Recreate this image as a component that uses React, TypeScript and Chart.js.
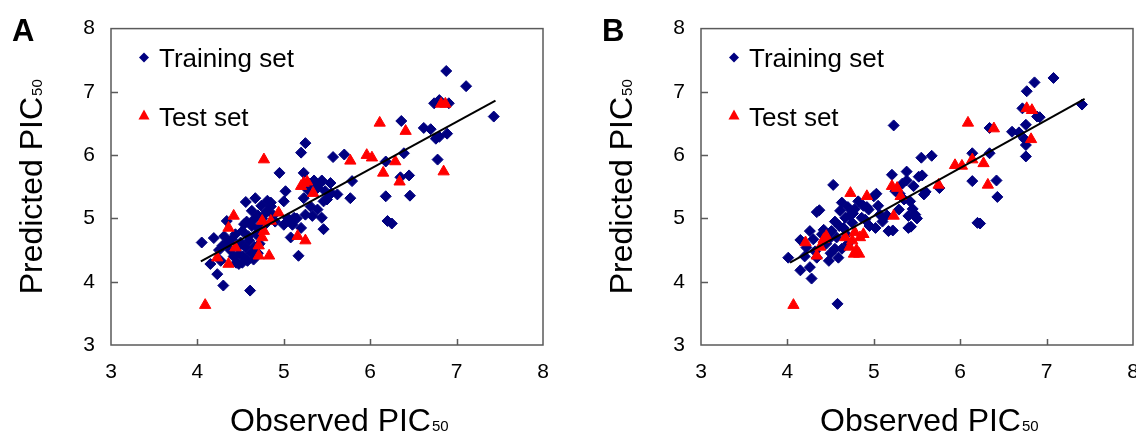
import { useEffect, useRef } from 'react';
import { Chart, registerables } from 'chart.js';

Chart.register(...registerables);

const xTicks = [3, 4, 5, 6, 7, 8];
const yTicks = [3, 4, 5, 6, 7, 8];
const seriesNames = ['Training set', 'Test set'];
const xTitle = ['Observed PIC', '50'];
const yTitle = ['Predicted PIC', '50'];

const trainingA: [number, number][] = [
  [4.05, 4.62], [4.15, 4.28], [4.19, 4.69], [4.23, 4.12], [4.27, 4.33], [4.29, 4.57], [4.30, 3.94],
  [4.31, 4.72], [4.34, 4.96], [4.38, 4.50], [4.40, 4.67], [4.42, 4.40], [4.45, 4.30], [4.48, 4.44],
  [4.48, 4.28], [4.50, 4.62], [4.52, 4.80], [4.54, 4.91], [4.56, 4.54], [4.56, 5.26], [4.58, 4.33],
  [4.59, 4.72], [4.61, 3.86], [4.62, 4.45], [4.63, 4.88], [4.63, 5.12], [4.65, 4.98], [4.67, 5.32],
  [4.68, 4.75], [4.70, 5.05], [4.72, 4.60], [4.74, 5.20], [4.78, 4.90], [4.81, 5.28], [4.85, 5.19],
  [4.88, 5.05], [4.90, 4.95], [4.95, 5.72], [5.00, 5.27], [5.02, 5.43], [5.00, 4.90], [5.05, 5.00],
  [5.08, 4.96], [5.08, 4.70], [5.12, 5.01], [5.15, 5.00], [5.17, 4.41], [5.20, 6.04], [5.25, 6.19],
  [5.23, 5.72], [5.20, 4.85], [5.23, 5.32], [5.25, 5.06], [5.31, 5.19], [5.33, 5.04], [5.39, 5.48],
  [5.39, 5.14], [5.44, 5.60], [5.44, 5.01], [5.46, 5.27], [5.46, 4.83], [5.48, 5.43], [5.54, 5.56],
  [5.57, 5.97], [5.62, 5.38], [5.70, 6.01], [5.77, 5.32], [5.79, 5.59], [5.30, 5.55], [5.35, 5.60],
  [4.25, 4.50], [4.35, 4.62], [4.44, 4.75], [4.47, 4.55], [4.53, 4.40], [4.60, 4.65], [4.66, 4.55],
  [4.70, 4.85], [4.75, 5.00], [4.80, 5.10], [4.57, 4.95], [4.65, 4.35], [4.52, 4.30], [4.85, 5.25],
  [5.10, 4.90], [5.28, 5.45], [5.42, 5.55], [5.50, 5.30], [5.55, 5.40], [4.70, 4.45],
  [6.18, 5.90], [6.18, 5.35], [6.20, 4.96], [6.25, 4.92], [6.36, 6.54], [6.39, 6.03], [6.35, 5.65],
  [6.45, 5.68], [6.46, 5.36], [6.62, 6.43], [6.70, 6.41], [6.76, 6.26], [6.80, 6.29], [6.89, 6.34],
  [6.78, 5.93], [6.74, 6.82], [6.80, 6.87], [6.91, 6.82], [6.88, 7.33], [7.11, 7.09], [7.43, 6.61],
];

const testA: [number, number][] = [
  [4.09, 3.63], [4.23, 4.38], [4.36, 4.28], [4.36, 4.85], [4.42, 5.04], [4.44, 4.54], [4.71, 4.41],
  [4.71, 4.57], [4.75, 4.96], [4.77, 4.80], [4.77, 5.93], [4.83, 4.41], [4.85, 4.96], [4.94, 5.09],
  [4.75, 4.70], [5.16, 4.72], [5.25, 4.65], [5.20, 5.51], [5.23, 5.56], [5.27, 5.58], [5.34, 5.40],
  [5.77, 5.91], [5.96, 6.00], [6.02, 5.96], [6.11, 6.51], [6.15, 5.72], [6.29, 5.90], [6.34, 5.58],
  [6.41, 6.38], [6.82, 6.81], [6.87, 6.81], [6.85, 5.74],
];

const fitA: [number, number][] = [[4.04, 4.32], [7.45, 6.86]];

const trainingB: [number, number][] = [
  [4.01, 4.38], [4.15, 4.66], [4.15, 4.18], [4.22, 4.54], [4.26, 4.80], [4.26, 4.23], [4.28, 4.05],
  [4.30, 4.67], [4.34, 5.10], [4.34, 4.38], [4.37, 5.13], [4.40, 4.75], [4.45, 4.60], [4.48, 4.67],
  [4.48, 4.33], [4.51, 4.80], [4.53, 5.53], [4.55, 4.52], [4.57, 4.70], [4.58, 3.65], [4.59, 4.38],
  [4.61, 5.12], [4.63, 5.25], [4.63, 4.52], [4.65, 4.85], [4.67, 5.01], [4.70, 4.60], [4.72, 5.05],
  [4.75, 4.93], [4.78, 5.15], [4.82, 5.27], [4.86, 5.01], [4.88, 5.20], [4.94, 5.14], [4.92, 5.18],
  [5.00, 5.35], [5.02, 4.85], [5.03, 5.39], [5.07, 5.06], [5.10, 4.95], [5.17, 4.80], [5.22, 4.81],
  [5.21, 5.69], [5.23, 6.47], [5.25, 5.43], [5.29, 5.14], [5.30, 5.39], [5.35, 5.30], [5.38, 5.74],
  [5.40, 5.04], [5.40, 4.85], [5.42, 5.27], [5.43, 4.87], [5.46, 5.51], [5.48, 5.06], [5.50, 5.00],
  [5.52, 5.66], [5.55, 5.96], [5.56, 5.68], [5.58, 5.38], [5.60, 5.42], [5.67, 5.99], [5.76, 5.48],
  [4.20, 4.40], [4.32, 4.48], [4.42, 4.82], [4.50, 4.45], [4.55, 4.95], [4.60, 4.88], [4.68, 4.75],
  [4.70, 5.18], [4.76, 5.08], [4.90, 4.98], [4.95, 4.88], [5.05, 5.20], [5.15, 5.05], [5.33, 5.55],
  [5.45, 5.15], [5.38, 5.60],
  [6.14, 6.03], [6.14, 5.59], [6.20, 4.93], [6.23, 4.92], [6.34, 6.43], [6.34, 6.03], [6.42, 5.60],
  [6.43, 5.34], [6.60, 6.37], [6.68, 6.36], [6.72, 6.74], [6.74, 6.26], [6.76, 6.48], [6.76, 6.16],
  [6.76, 5.98], [6.77, 7.01], [6.86, 7.15], [6.89, 6.61], [6.92, 6.60], [7.08, 7.22], [7.41, 6.80],
];

const testB: [number, number][] = [
  [4.07, 3.63], [4.21, 4.62], [4.34, 4.41], [4.38, 4.55], [4.42, 4.67], [4.45, 4.72], [4.67, 4.70],
  [4.72, 4.55], [4.73, 5.40], [4.75, 4.65], [4.77, 4.44], [4.80, 4.50], [4.83, 4.44], [4.84, 4.70],
  [4.78, 4.78], [4.88, 4.75], [4.92, 5.35], [5.21, 5.51], [5.23, 5.04], [5.27, 5.48], [5.31, 5.35],
  [5.75, 5.53], [5.94, 5.84], [6.02, 5.83], [6.09, 6.51], [6.14, 5.93], [6.27, 5.87], [6.32, 5.53],
  [6.39, 6.42], [6.77, 6.74], [6.83, 6.71], [6.82, 6.25],
];

const fitB: [number, number][] = [[4.03, 4.30], [7.44, 6.89]];

const FONT = '"Liberation Sans", Arial, Helvetica, sans-serif';
const NAVY = '#000080';
const RED = '#ff0000';
const BOX = '#5a5a5a';

type PanelProps = {
  label: string;
  training: [number, number][];
  test: [number, number][];
  fit: [number, number][];
  left: number;
};

function Panel({ label, training, test, fit, left }: PanelProps) {
  const ref = useRef<HTMLCanvasElement>(null);
  useEffect(() => {
    if (!ref.current) return;
    const decor = {
      id: 'decor',
      afterDraw(chart: any) {
        const { ctx, chartArea: a, scales } = chart;
        ctx.save();
        ctx.strokeStyle = BOX;
        ctx.lineWidth = 1.5;
        ctx.strokeRect(a.left, a.top, a.right - a.left, a.bottom - a.top);
        ctx.beginPath();
        for (const v of xTicks.slice(1, -1)) {
          const px = Math.round(scales.x.getPixelForValue(v)) + 0.5;
          ctx.moveTo(px, a.bottom);
          ctx.lineTo(px, a.bottom - 6);
        }
        for (const v of yTicks.slice(1, -1)) {
          const py = Math.round(scales.y.getPixelForValue(v)) + 0.5;
          ctx.moveTo(a.left, py);
          ctx.lineTo(a.left + 7, py);
        }
        ctx.stroke();

        ctx.fillStyle = '#000';
        ctx.textBaseline = 'alphabetic';
        ctx.textAlign = 'left';
        ctx.font = `bold 31px ${FONT}`;
        ctx.fillText(label, a.left - 99, 41);

        ctx.font = `32px ${FONT}`;
        const xm = ctx.measureText(xTitle[0]).width;
        const xs = a.left + 119;
        ctx.fillText(xTitle[0], xs, 431);
        ctx.font = `15px ${FONT}`;
        ctx.fillText(xTitle[1], xs + xm + 1, 431);

        ctx.font = `32px ${FONT}`;
        const ym = ctx.measureText(yTitle[0]).width;
        ctx.font = `15px ${FONT}`;
        const ysw = ctx.measureText(yTitle[1]).width;
        const tot = ym + 1 + ysw;
        ctx.save();
        ctx.translate(42, (a.top + a.bottom) / 2);
        ctx.rotate(-Math.PI / 2);
        ctx.font = `32px ${FONT}`;
        ctx.fillText(yTitle[0], -tot / 2, 0);
        ctx.font = `15px ${FONT}`;
        ctx.fillText(yTitle[1], -tot / 2 + ym + 1, 0);
        ctx.restore();

        const mx = a.left + 33;
        ctx.fillStyle = NAVY;
        ctx.beginPath();
        ctx.moveTo(mx - 5, 57.5);
        ctx.lineTo(mx, 52.5);
        ctx.lineTo(mx + 5, 57.5);
        ctx.lineTo(mx, 62.5);
        ctx.closePath();
        ctx.fill();
        ctx.fillStyle = RED;
        ctx.beginPath();
        ctx.moveTo(mx, 109.5);
        ctx.lineTo(mx + 5.5, 119.5);
        ctx.lineTo(mx - 5.5, 119.5);
        ctx.closePath();
        ctx.fill();
        ctx.fillStyle = '#000';
        ctx.font = `26px ${FONT}`;
        ctx.fillText(seriesNames[0], a.left + 48, 67);
        ctx.fillText(seriesNames[1], a.left + 48, 126);
        ctx.restore();
      },
    };

    const tickFont = { family: FONT, size: 21 };
    const chart = new Chart(ref.current, {
      type: 'scatter',
      data: {
        datasets: [
          {
            label: 'fit',
            data: fit.map(([x, y]) => ({ x, y })),
            showLine: true,
            borderColor: '#000',
            borderWidth: 2,
            pointRadius: 0,
            order: 0,
          } as any,
          {
            label: seriesNames[1],
            data: test.map(([x, y]) => ({ x, y })),
            pointStyle: 'triangle',
            pointRadius: 6.5,
            backgroundColor: RED,
            borderColor: RED,
            borderWidth: 1,
            order: 1,
          },
          {
            label: seriesNames[0],
            data: training.map(([x, y]) => ({ x, y })),
            pointStyle: 'rectRot',
            pointRadius: 5.5,
            backgroundColor: NAVY,
            borderColor: NAVY,
            borderWidth: 1,
            order: 2,
          },
        ],
      },
      options: {
        responsive: false,
        animation: false,
        layout: { padding: { left: 0, top: 26, right: 47, bottom: 0 }, autoPadding: false },
        plugins: { legend: { display: false }, tooltip: { enabled: false } },
        scales: {
          x: {
            type: 'linear',
            min: 3,
            max: 8,
            ticks: { stepSize: 1, font: tickFont, color: '#000', padding: 15, maxRotation: 0 },
            grid: { display: false, drawTicks: false },
            border: { display: false },
            afterFit: (s: any) => { s.height = 90; },
          },
          y: {
            type: 'linear',
            min: 3,
            max: 8,
            ticks: { stepSize: 1, font: tickFont, color: '#000', padding: 16 },
            grid: { display: false, drawTicks: false },
            border: { display: false },
            afterFit: (s: any) => { s.width = 111; },
          },
        },
      },
      plugins: [decor],
    });
    return () => chart.destroy();
  }, [label, training, test, fit]);

  return (
    <canvas
      ref={ref}
      width={590}
      height={435}
      style={{ position: 'absolute', left, top: 0, width: 590, height: 435 }}
    />
  );
}

export default function App() {
  return (
    <div style={{ position: 'fixed', left: 0, top: 0, width: 1136, height: 435, background: '#fff', overflow: 'hidden' }}>
      <Panel label="A" training={trainingA} test={testA} fit={fitA} left={0} />
      <Panel label="B" training={trainingB} test={testB} fit={fitB} left={590} />
    </div>
  );
}
